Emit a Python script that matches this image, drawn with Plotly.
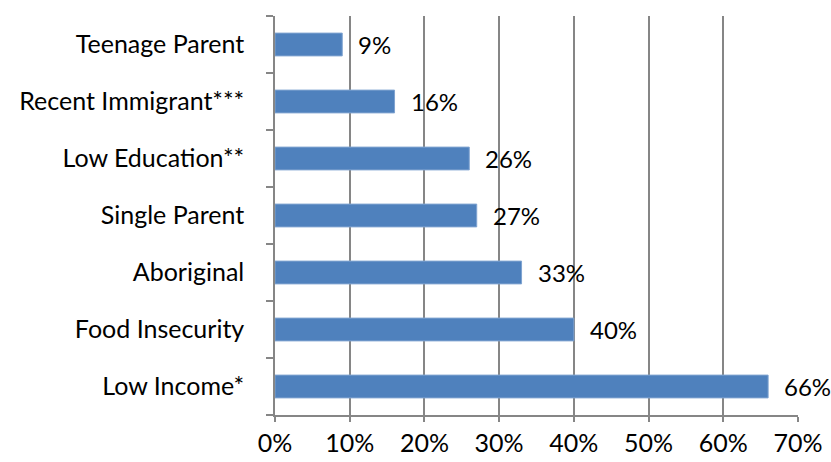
import plotly.graph_objects as go

categories = ["Low Income*", "Food Insecurity", "Aboriginal", "Single Parent",
              "Low Education**", "Recent Immigrant***", "Teenage Parent"]
values = [0.66, 0.40, 0.33, 0.27, 0.26, 0.16, 0.09]
labels = ["66%", "40%", "33%", "27%", "26%", "16%", "9%"]

FONT = "Lato, Carlito, Calibri, sans-serif"
GRID = "#868686"

fig = go.Figure()
fig.add_trace(go.Bar(
    y=categories, x=values, orientation="h",
    marker=dict(color="#4F81BD", line=dict(color="#7FA3D0", width=1)),
    width=0.4, hoverinfo="skip",
))
for c, v, t in zip(categories, values, labels):
    fig.add_annotation(x=v, y=c, text=t, showarrow=False, xanchor="left",
                       xshift=14, font=dict(family=FONT, size=24, color="#000000"))

fig.update_layout(
    width=831, height=462,
    margin=dict(l=275, r=33, t=16, b=47),
    paper_bgcolor="white", plot_bgcolor="white",
    showlegend=False,
    font=dict(family=FONT, size=25, color="#000000"),
    xaxis=dict(range=[0, 0.7], dtick=0.1, tickformat=".0%",
               showgrid=True, gridcolor=GRID, gridwidth=1.5,
               showline=True, linecolor=GRID, linewidth=1.5,
               ticks="outside", ticklen=5, tickcolor=GRID, tickwidth=1.5,
               zeroline=False, fixedrange=True, automargin=False),
    yaxis=dict(categoryorder="array", categoryarray=categories,
               showline=True, linecolor=GRID, linewidth=1.5,
               ticks="outside", tickson="boundaries", ticklen=7,
               tickcolor=GRID, tickwidth=1.5, ticklabelstandoff=24,
               showgrid=False, fixedrange=True, automargin=False),
)
fig.write_html(
    "out.html",
    config={"displayModeBar": False},
    post_script="document.body.style.margin='0';document.body.style.overflow='hidden';",
)
